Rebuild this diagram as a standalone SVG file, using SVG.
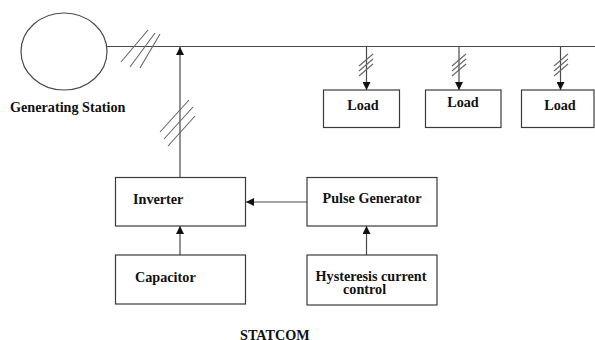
<svg xmlns="http://www.w3.org/2000/svg" width="595" height="340" viewBox="0 0 595 340">
<style>
.ln{stroke:#4a4a4a;stroke-width:1.2;fill:none}
.sl{stroke:#666;stroke-width:1.1;fill:none}
.bx{stroke:#3a3a3a;stroke-width:1.2;fill:#fff}
.t{font-family:"Liberation Serif","Times New Roman",serif;font-weight:bold;font-size:14.2px;fill:#111}
</style>
<defs>
<marker id="ah" viewBox="0 0 10 10" refX="10" refY="5" markerWidth="8" markerHeight="8" markerUnits="userSpaceOnUse" orient="auto">
<path d="M0,0 L10,5 L0,10 z" fill="#111"/>
</marker>
</defs>
<rect width="595" height="340" fill="#fff"/>
<g id="generator">
<ellipse cx="64" cy="51.5" rx="43" ry="38.5" class="ln"/>
<text class="t" x="10" y="112">Generating Station</text>
</g>
<g id="connectors">
<line class="ln" x1="107" y1="46.5" x2="595" y2="46.5"/>
<line class="sl" x1="121" y1="62" x2="148" y2="30"/>
<line class="sl" x1="130" y1="67" x2="155" y2="33"/>
<line class="sl" x1="140" y1="68" x2="160" y2="34"/>
<line class="ln" x1="180" y1="177" x2="180" y2="47" marker-end="url(#ah)"/>
<line class="sl" x1="160" y1="132" x2="189" y2="100"/>
<line class="sl" x1="164" y1="139" x2="193" y2="107"/>
<line class="sl" x1="168" y1="146" x2="195" y2="116"/>
<line class="ln" x1="366.5" y1="46.5" x2="366.5" y2="90" marker-end="url(#ah)"/>
<line class="ln" x1="459" y1="46.5" x2="459" y2="90" marker-end="url(#ah)"/>
<line class="ln" x1="560.5" y1="46.5" x2="560.5" y2="90" marker-end="url(#ah)"/>
<g class="sl">
<line x1="359" y1="66" x2="373" y2="54"/><line x1="359" y1="71" x2="373" y2="59"/><line x1="359" y1="76" x2="373" y2="64"/>
<line x1="452" y1="66" x2="466" y2="54"/><line x1="452" y1="71" x2="466" y2="59"/><line x1="452" y1="76" x2="466" y2="64"/>
<line x1="554" y1="66" x2="568" y2="54"/><line x1="554" y1="71" x2="568" y2="59"/><line x1="554" y1="76" x2="568" y2="64"/>
</g>
<line class="ln" x1="307" y1="202" x2="246" y2="202" marker-end="url(#ah)"/>
<line class="ln" x1="180" y1="255" x2="180" y2="226" marker-end="url(#ah)"/>
<line class="ln" x1="366.5" y1="255" x2="366.5" y2="226" marker-end="url(#ah)"/>
</g>
<g id="load1">
<rect class="bx" x="323.5" y="90" width="76" height="37.5"/>
<text class="t" x="363" y="109.5" text-anchor="middle">Load</text>
</g>
<g id="load2">
<rect class="bx" x="425.5" y="90" width="75.5" height="37.5"/>
<text class="t" x="463" y="107" text-anchor="middle">Load</text>
</g>
<g id="load3">
<rect class="bx" x="521.5" y="90" width="72.5" height="37.5"/>
<text class="t" x="560" y="109.5" text-anchor="middle">Load</text>
</g>
<g id="inverter">
<rect class="bx" x="115.5" y="177.5" width="130" height="48.5"/>
<text class="t" x="133" y="203.5">Inverter</text>
</g>
<g id="pulse">
<rect class="bx" x="307" y="177.5" width="130" height="48.5"/>
<text class="t" x="372" y="203" text-anchor="middle">Pulse Generator</text>
</g>
<g id="capacitor">
<rect class="bx" x="115.5" y="255" width="130" height="49"/>
<text class="t" x="135" y="281.5">Capacitor</text>
</g>
<g id="hysteresis">
<rect class="bx" x="307" y="255" width="130" height="50"/>
<text class="t" x="371" y="280.5" text-anchor="middle">Hysteresis current</text>
<text class="t" x="343" y="294">control</text>
</g>
<g id="statcom">
<text class="t" x="240" y="340">STATCOM</text>
</g>
</svg>
